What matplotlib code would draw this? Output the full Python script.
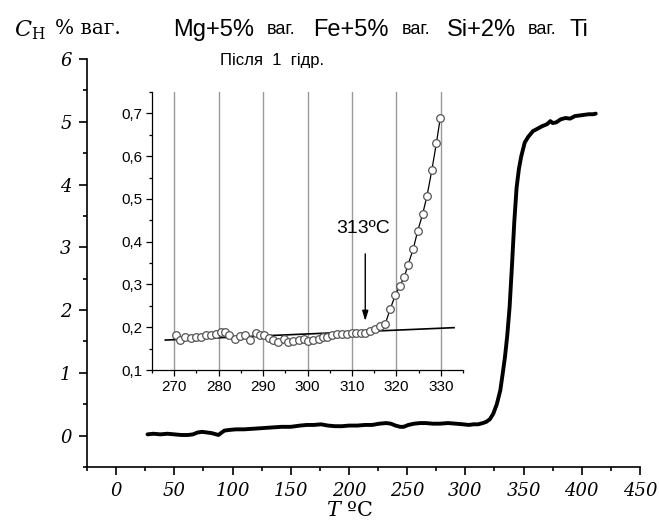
import matplotlib
matplotlib.use("Agg")
import matplotlib.pyplot as plt
from matplotlib.ticker import MultipleLocator, FuncFormatter

# ---- main curve data ----
T_main = [27, 32, 38, 44, 50, 56, 62, 66, 70, 74, 78, 82, 86, 88, 90, 93, 97, 103, 110, 118,
          126, 134, 142, 150, 158, 164, 170, 176, 182, 188, 194, 200, 207, 214, 220, 226, 232, 236, 240, 244,
          247, 251, 256, 261, 266, 272, 278, 285, 292, 298, 303, 307, 311, 315, 318, 321, 324, 327, 330, 332,
          334, 336, 338, 340, 342, 344, 346, 348, 351, 354, 358, 362, 366, 370, 373, 375, 378, 382, 386, 390,
          394, 398, 402, 406, 410, 412]
C_main = [0.02, 0.03, 0.02, 0.03, 0.02, 0.01, 0.01, 0.02, 0.05, 0.06, 0.05, 0.04, 0.02, 0.01, 0.04, 0.08, 0.09, 0.10, 0.10, 0.11,
          0.12, 0.13, 0.14, 0.14, 0.16, 0.17, 0.17, 0.18, 0.16, 0.15, 0.15, 0.16, 0.16, 0.17, 0.17, 0.19, 0.20, 0.19, 0.16, 0.14,
          0.14, 0.17, 0.19, 0.20, 0.20, 0.19, 0.19, 0.20, 0.19, 0.18, 0.17, 0.18, 0.18, 0.20, 0.22, 0.26, 0.35, 0.50, 0.72, 0.98,
          1.25, 1.60, 2.05, 2.70, 3.40, 3.95, 4.25, 4.45, 4.67, 4.76, 4.85, 4.89, 4.93, 4.96, 5.01, 4.98, 4.99, 5.04, 5.06, 5.05,
          5.09, 5.10, 5.11, 5.12, 5.12, 5.13]

# ---- inset data ----
T_in = [270.3, 271.3, 272.4, 273.7, 274.9, 276.0, 277.1, 278.3, 279.4, 280.5, 281.4, 282.4, 283.7, 284.8,
        285.9, 287.1, 288.3, 289.3, 290.3, 291.4, 292.3, 293.3, 294.6, 295.7, 296.8, 298.0, 299.1, 300.2,
        301.3, 302.5, 303.5, 304.4, 305.5, 306.6, 307.7, 308.9, 310.0, 311.0, 312.0, 313.0, 314.0, 315.3,
        316.4, 317.5, 318.6, 319.8, 320.8, 321.8, 322.6, 323.8, 324.8, 325.9, 326.9, 328.0, 329.0, 329.9]
C_in = [0.182, 0.170, 0.178, 0.175, 0.177, 0.178, 0.183, 0.183, 0.184, 0.188, 0.190, 0.182, 0.172, 0.180,
        0.182, 0.170, 0.186, 0.182, 0.181, 0.175, 0.170, 0.166, 0.172, 0.165, 0.168, 0.170, 0.172, 0.167,
        0.170, 0.173, 0.176, 0.178, 0.182, 0.184, 0.185, 0.185, 0.186, 0.187, 0.187, 0.187, 0.192, 0.195,
        0.203, 0.208, 0.242, 0.276, 0.297, 0.318, 0.345, 0.383, 0.425, 0.464, 0.507, 0.568, 0.630, 0.690]
fit_T = [268, 333]
fit_C = [0.170, 0.199]
onset_T = 313
onset_label = "313ºC"

title_parts = [("Mg+5%", 173, 17), ("ваг.", 267, 13), ("Fe+5%", 313, 17), ("ваг.", 402, 13),
               ("Si+2%", 447, 17), ("ваг.", 528, 13), ("Ti", 570, 17)]
inset_title = "Після  1  гідр."

W, H = 659, 530
fig = plt.figure(figsize=(W / 100, H / 100), dpi=100)

plt.rcParams["mathtext.fontset"] = "dejavuserif"

# main axes
ax = fig.add_axes([87 / W, 1 - 467 / H, (640 - 87) / W, (467 - 59) / H])
ax.plot(T_main, C_main, color="black", lw=2.8, solid_capstyle="round", solid_joinstyle="round")
ax.set_xlim(-25, 450)
ax.set_ylim(-0.5, 6)
for s in ("top", "right"):
    ax.spines[s].set_visible(False)
for s in ("left", "bottom"):
    ax.spines[s].set_linewidth(1.2)
ax.xaxis.set_major_locator(MultipleLocator(50))
ax.xaxis.set_minor_locator(MultipleLocator(25))
ax.yaxis.set_major_locator(MultipleLocator(1))
ax.yaxis.set_minor_locator(MultipleLocator(0.5))
ax.tick_params(which="major", direction="out", length=6, width=1.2, pad=5)
ax.tick_params(which="minor", direction="out", length=3, width=1.2)
for lab in ax.get_xticklabels() + ax.get_yticklabels():
    lab.set_fontfamily("DejaVu Serif")
    lab.set_fontstyle("italic")
    lab.set_fontsize(13)

# inset axes
ia = fig.add_axes([152 / W, 1 - 370 / H, (463 - 152) / W, (370 - 92) / H])
ia.patch.set_alpha(0)
ia.set_xlim(265, 335)
ia.set_ylim(0.1, 0.75)
for s in ("top", "right"):
    ia.spines[s].set_visible(False)
for s in ("left", "bottom"):
    ia.spines[s].set_linewidth(0.9)
ia.xaxis.set_major_locator(MultipleLocator(10))
ia.xaxis.set_minor_locator(MultipleLocator(5))
ia.yaxis.set_major_locator(MultipleLocator(0.1))
ia.yaxis.set_minor_locator(MultipleLocator(0.05))
ia.tick_params(which="major", direction="out", length=4, width=0.9, pad=3, labelsize=11)
ia.tick_params(which="minor", direction="out", length=2.5, width=0.9)
ia.yaxis.set_major_formatter(FuncFormatter(lambda v, p: f"{v:.1f}".replace(".", ",")))
for lab in ia.get_xticklabels() + ia.get_yticklabels():
    lab.set_fontfamily("Liberation Sans")
ia.xaxis.grid(True, which="major", color="#999999", lw=1.0)
ia.set_axisbelow(True)
ia.plot(fit_T, fit_C, color="black", lw=1.2, zorder=3)
ia.plot(T_in, C_in, color="black", lw=0.9, marker="o", markersize=5.5,
        markerfacecolor="white", markeredgecolor="#555555", markeredgewidth=0.9, zorder=4)
ia.annotate("", xy=(onset_T, 0.208), xytext=(onset_T, 0.378),
            arrowprops=dict(arrowstyle="-|>,head_length=0.6,head_width=0.18", color="black", lw=1.0))
ia.text(onset_T - 0.5, 0.432, onset_label, ha="center", va="center", fontsize=14,
        family="Liberation Sans")

# titles and labels
for txt, xpix, size in title_parts:
    fig.text(xpix / W, 1 - 30 / H, txt, ha="left", va="center", fontsize=size, family="Liberation Sans")
fig.text(220 / W, 1 - 60 / H, inset_title, ha="left", va="center", fontsize=12, family="Liberation Sans")

fig.text(14 / W, 1 - 30 / H, r"$C_{\mathrm{H}}$", ha="left", va="center", fontsize=16)
fig.text(55 / W, 1 - 28 / H, "% ваг.", ha="left", va="center", fontsize=14.5, family="DejaVu Serif")

fig.text(350 / W, 1 - 510 / H, r"$T$ ºC", ha="center", va="center", fontsize=15, family="DejaVu Serif")

fig.savefig("out.png", dpi=100, facecolor="white")
